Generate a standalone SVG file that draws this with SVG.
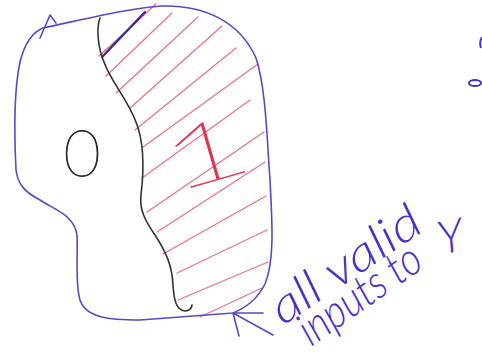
<svg xmlns="http://www.w3.org/2000/svg" width="482" height="360" viewBox="0 0 482 360">
<style>
.bg{fill:#ffffff}
.outline{fill:none;stroke:#5a48c8;stroke-width:1.6;stroke-linecap:round;stroke-linejoin:round}
.ink{fill:none;stroke:#333333;stroke-width:1.6;stroke-linecap:round;stroke-linejoin:round}
.hatch line{stroke:#ef7088;stroke-width:1.3;stroke-linecap:round}
.label{font-family:Lato,"Liberation Sans","DejaVu Sans",sans-serif;font-style:italic;font-weight:300;fill:#4a30c8}
.digit{font-family:Lato,"DejaVu Sans","Liberation Sans",sans-serif;font-weight:100}
</style>
<rect class="bg" x="0" y="0" width="482" height="360"/>
<g id="hatching" class="hatch">
<line x1="99" y1="56" x2="156" y2="4"/>
<line x1="106" y1="76" x2="172" y2="13"/>
<line x1="116" y1="93" x2="198" y2="17"/>
<line x1="130" y1="108" x2="222" y2="26"/>
<line x1="135" y1="130" x2="236" y2="48"/>
<line x1="143" y1="147" x2="258" y2="64"/>
<line x1="142" y1="178" x2="250" y2="100"/>
<line x1="147" y1="212" x2="264" y2="132"/>
<line x1="157" y1="232" x2="265" y2="162"/>
<line x1="163" y1="254" x2="266" y2="196"/>
<line x1="177" y1="273" x2="267" y2="230"/>
<line x1="178" y1="300" x2="268" y2="262"/>
<line x1="200" y1="317" x2="262" y2="288"/>
</g>
<g id="domain">
<path class="outline" d="M40,38 L50,15 L56,23"/>
<path class="outline" d="M43,28 C90,18 130,8 162,6 C205,5 240,22 256,58 C266,88 267,140 270,180 C272,220 275,260 265,284 C258,298 248,307 233,313 L140,320 C110,320 86,318 80,300 C75,285 78,255 77,235 C74,215 55,210 40,200 C25,192 18,185 16,170 C14,130 14,90 20,62 C25,42 33,32 43,28"/>
<path d="M102,57 L145,12" fill="none" stroke="#3a2a9c" stroke-width="2.4" stroke-linecap="round"/>
</g>
<g id="boundary">
<path class="ink" d="M100,18 C96,28 98,48 104,62 C110,80 128,100 136,122 C144,142 144,170 141,195 C139,210 146,222 155,235 C166,252 172,265 173,285 C174,300 176,310 185,311 C189,311 192,308 192,305"/>
</g>
<g id="region-0">
<text class="digit" x="82" y="176" text-anchor="middle" font-size="64" fill="#2a2a2a" stroke="#2a2a2a" stroke-width="0.9">0</text>
</g>
<g id="region-1">
<text class="digit" transform="translate(214,181) rotate(-16) scale(1.9,1)" text-anchor="middle" font-size="84" fill="#e3304e" stroke="#e3304e" stroke-width="0.6">1</text>
</g>
<g id="connectors">
<path class="outline" d="M273,335 L233,313 M233,313 L263,313 M233,313 L239,336" stroke-width="2"/>
</g>
<g id="note">
<text class="label" font-size="48" transform="translate(283,326) rotate(-34)" textLength="172" lengthAdjust="spacingAndGlyphs">all valid</text>
<text class="label" font-size="46" transform="translate(311,347) rotate(-35)" textLength="140" lengthAdjust="spacingAndGlyphs">inputs to</text>
<text class="label" font-size="46" transform="translate(454,252) rotate(-12)" text-anchor="middle">Y</text>
</g>
<g id="margin-mark">
<ellipse cx="475" cy="83" rx="6" ry="3" fill="none" stroke="#4a30c8" stroke-width="2"/>
<path d="M482,37 Q479,42 481,48" fill="none" stroke="#4a30c8" stroke-width="2"/>
</g>
</svg>
